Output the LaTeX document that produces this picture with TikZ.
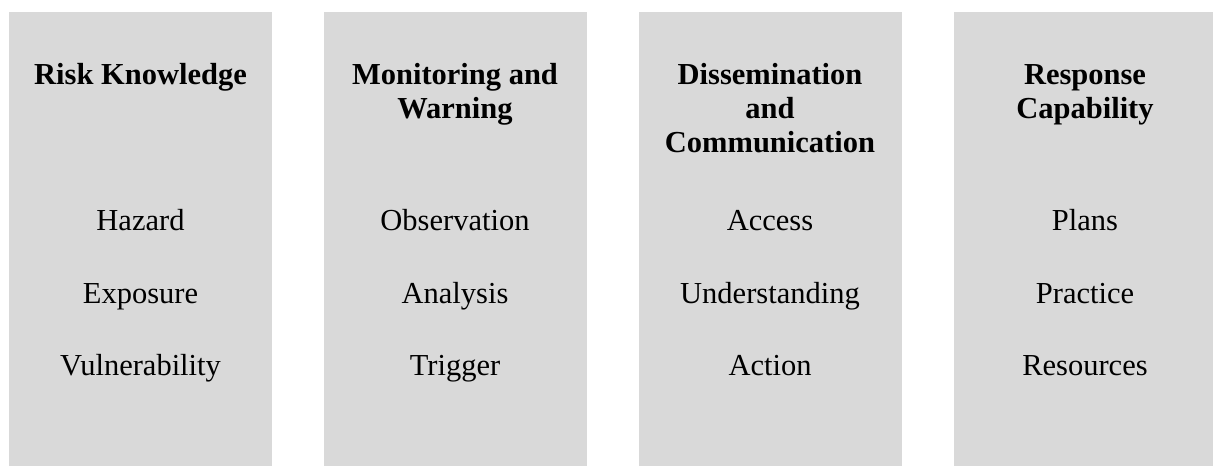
\documentclass[tikz,border=0pt]{standalone}
\usepackage{fontspec}
\setmainfont{Liberation Serif}
\definecolor{panelgray}{HTML}{D9D9D9}
\begin{document}
\begin{tikzpicture}[x=1pt,y=1pt,
  panel/.style={fill=panelgray,draw=none,minimum width=263pt,minimum height=454pt,inner sep=0pt,anchor=north},
  title/.style={font=\fontsize{30.5}{34}\selectfont\bfseries,anchor=base,inner sep=0pt},
  item/.style={font=\fontsize{30.5}{34}\selectfont,anchor=base,inner sep=0pt}]
\useasboundingbox (0,0) rectangle (1213,466);
\begin{scope}
\clip (0,0) rectangle (1213,466);
% four grey columns
\node[panel] (p1) at (140.5,454) {};
\node[panel] (p2) at (455,454) {};
\node[panel] (p3) at (770,454) {};
\node[panel] (p4) at (1085,454) {};
\end{scope}
% column headings
\node[title] (t1) at (140.5,381) {Risk Knowledge};
\node[title] (t2a) at (455,381) {Monitoring and};
\node[title] (t2b) at (455,347) {Warning};
\node[title] (t3a) at (770,381) {Dissemination};
\node[title] (t3b) at (770,347) {and};
\node[title] (t3c) at (770,313) {Communication};
\node[title] (t4a) at (1085,381) {Response};
\node[title] (t4b) at (1085,347) {Capability};
% column items
\foreach \c/\n/\a/\b/\d in {140.5/1/Hazard/Exposure/Vulnerability,
                            455/2/Observation/Analysis/Trigger,
                            770/3/Access/Understanding/Action,
                            1085/4/Plans/Practice/Resources}{
  \node[item] (i\n a) at (\c,235) {\a};
  \node[item] (i\n b) at (\c,162) {\b};
  \node[item] (i\n c) at (\c,90) {\d};
}
\end{tikzpicture}
\end{document}
